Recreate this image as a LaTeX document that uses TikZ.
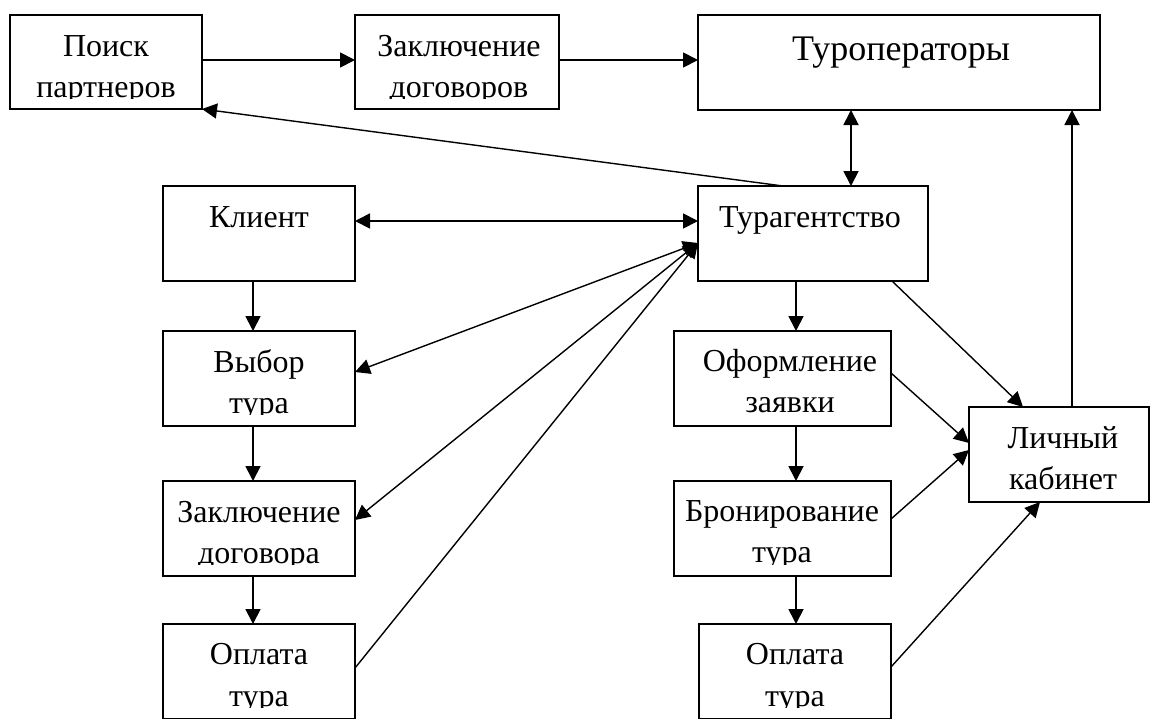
\documentclass[tikz,border=0pt]{standalone}
\usepackage{fontspec}
\setmainfont{Liberation Serif}
\usetikzlibrary{arrows.meta}
\tikzset{
  boxst/.style={draw, rectangle, line width=2pt, inner sep=0pt, outer sep=0pt},
  txt/.style={font=\fontsize{32}{41}\selectfont, anchor=base, inner sep=0pt, outer sep=0pt},
  bigtxt/.style={font=\fontsize{36}{44}\selectfont, anchor=base, inner sep=0pt, outer sep=0pt},
  tip/.tip={Triangle[length=15pt,width=15pt]},
  arr/.style={line width=1.8pt, -tip},
  darr/.style={line width=1.8pt, tip-tip},
  thinarr/.style={line width=1.4pt, -tip},
  thindarr/.style={line width=1.4pt, tip-tip},
}
\begin{document}
\begin{tikzpicture}[x=1pt,y=-1pt]
\fill[white] (0,0) rectangle (1151,718);
\useasboundingbox (0,0) rectangle (1151,718);

% boxes
\node[boxst, minimum width=192, minimum height=94] (poisk) at (106,62) {};
\node[boxst, minimum width=204, minimum height=94] (zakl1) at (457,62) {};
\node[boxst, minimum width=402, minimum height=95] (turop) at (899,62.5) {};
\node[boxst, minimum width=230, minimum height=95] (turag) at (813,233.5) {};
\node[boxst, minimum width=192, minimum height=95] (klient) at (259,233.5) {};
\node[boxst, minimum width=192, minimum height=95] (vybor) at (259,378.5) {};
\node[boxst, minimum width=192, minimum height=95] (zakl2) at (259,528.5) {};
\node[boxst, minimum width=192, minimum height=95] (opl1) at (259,671.5) {};
\node[boxst, minimum width=217, minimum height=95] (oform) at (782.5,378.5) {};
\node[boxst, minimum width=217, minimum height=95] (bron) at (782.5,528.5) {};
\node[boxst, minimum width=192, minimum height=95] (opl2) at (795,671.5) {};
\node[boxst, minimum width=180, minimum height=95] (lk) at (1059,454.5) {};

% texts (clipped like the text boxes of the original)
\begin{scope}
\clip (10,15) rectangle (202,98);
\node[txt] (poisk-a) at (106,56) {Поиск};
\node[txt] (poisk-b) at (106,97) {партнеров};
\end{scope}
\begin{scope}
\clip (355,15) rectangle (559,98);
\node[txt] (zakl1-a) at (459,56) {Заключение};
\node[txt] (zakl1-b) at (459,97) {договоров};
\end{scope}
\node[bigtxt] (turop-a) at (901,60) {Туроператоры};
\node[txt] (turag-a) at (810,227) {Турагентство};
\node[txt] (klient-a) at (259,227) {Клиент};
\begin{scope}
\clip (163,331) rectangle (355,414);
\node[txt] (vybor-a) at (259,372) {Выбор};
\node[txt] (vybor-b) at (259,413) {тура};
\end{scope}
\begin{scope}
\clip (163,481) rectangle (355,564);
\node[txt] (zakl2-a) at (259,522) {Заключение};
\node[txt] (zakl2-b) at (259,563) {договора};
\end{scope}
\begin{scope}
\clip (163,624) rectangle (355,707);
\node[txt] (opl1-a) at (259,664) {Оплата};
\node[txt] (opl1-b) at (259,706) {тура};
\end{scope}
\begin{scope}
\clip (674,331) rectangle (891,414);
\node[txt] (oform-a) at (790,371) {Оформление};
\node[txt] (oform-b) at (790,412) {заявки};
\end{scope}
\begin{scope}
\clip (674,481) rectangle (891,564);
\node[txt] (bron-a) at (782,521) {Бронирование};
\node[txt] (bron-b) at (782,562) {тура};
\end{scope}
\begin{scope}
\clip (699,624) rectangle (891,707);
\node[txt] (opl2-a) at (795,664) {Оплата};
\node[txt] (opl2-b) at (795,706) {тура};
\end{scope}
\begin{scope}
\clip (969,407) rectangle (1149,490);
\node[txt] (lk-a) at (1063,448) {Личный};
\node[txt] (lk-b) at (1063,489) {кабинет};
\end{scope}

% connectors
\draw[arr] ([yshift=2pt]poisk.east) -- ([yshift=2pt]zakl1.west);
\draw[arr] ([yshift=2pt]zakl1.east) -- ([yshift=2.5pt]turop.west);
\draw[darr] ([xshift=38pt]turag.north) -- ([xshift=-48pt]turop.south);
\draw[thinarr] ([xshift=-30pt]turag.north) -- (poisk.south east);
\draw[darr] ([yshift=12.5pt]klient.east) -- ([yshift=12.5pt]turag.west);
\draw[thindarr] ([yshift=6.5pt]vybor.east) -- ([yshift=-9.5pt]turag.west);
\draw[thindarr] ([yshift=8.5pt]zakl2.east) -- ([yshift=-9.5pt]turag.west);
\draw[thinarr] ([yshift=3.5pt]opl1.east) -- ([yshift=-9.5pt]turag.west);
\draw[arr] ([xshift=-6pt]klient.south) -- ([xshift=-6pt]vybor.north);
\draw[arr] ([xshift=-6pt]vybor.south) -- ([xshift=-6pt]zakl2.north);
\draw[arr] ([xshift=-6pt]zakl2.south) -- ([xshift=-6pt]opl1.north);
\draw[arr] ([xshift=-17pt]turag.south) -- ([xshift=13.5pt]oform.north);
\draw[arr] ([xshift=13.5pt]oform.south) -- ([xshift=13.5pt]bron.north);
\draw[arr] ([xshift=13.5pt]bron.south) -- ([xshift=1pt]opl2.north);
\draw[thinarr] ([xshift=79pt]turag.south) -- ([xshift=-36pt]lk.north);
\draw[thinarr] ([yshift=5.5pt]oform.east) -- ([yshift=11.5pt]lk.west);
\draw[thinarr] ([yshift=9.5pt]bron.east) -- ([yshift=4.5pt]lk.west);
\draw[thinarr] ([yshift=4.5pt]opl2.east) -- ([xshift=-19pt]lk.south);
\draw[arr] ([xshift=13pt]lk.north) -- ([xshift=173pt]turop.south);
\end{tikzpicture}
\end{document}
